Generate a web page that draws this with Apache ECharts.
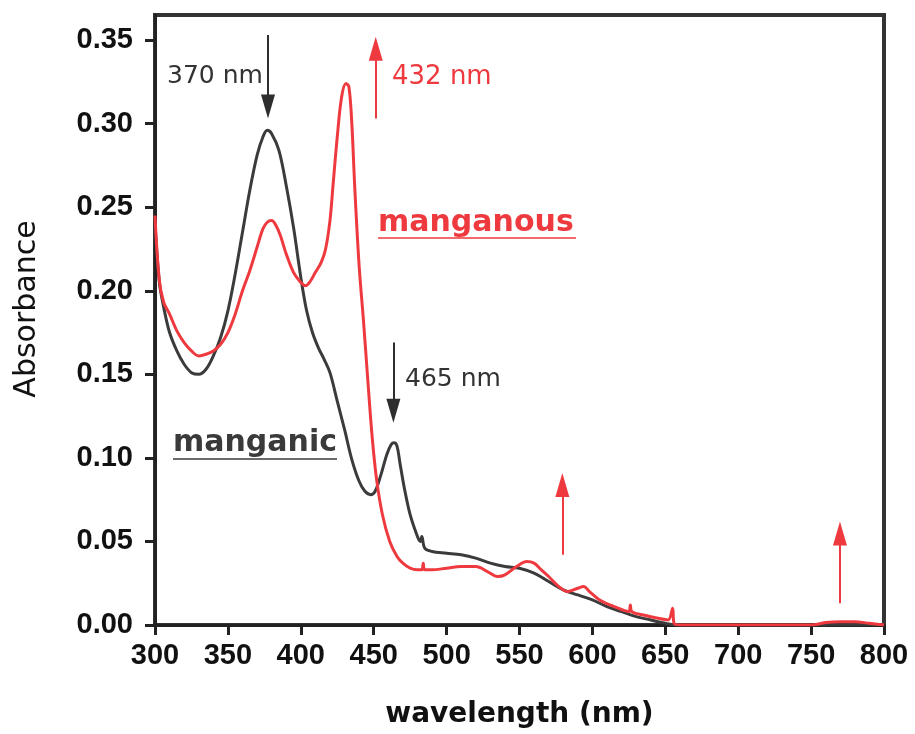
<!DOCTYPE html>
<html>
<head>
<meta charset="utf-8">
<script src="https://cdn.jsdelivr.net/npm/echarts@6/dist/echarts.min.js"></script>
<style>html,body{margin:0;padding:0;background:#fff}#c{width:915px;height:734px}</style>
</head>
<body>
<div id="c"></div>
<script>
// ---- data ----
const xTicks = [300, 350, 400, 450, 500, 550, 600, 650, 700, 750, 800];
const yTicks = [0, 0.05, 0.10, 0.15, 0.20, 0.25, 0.30, 0.35];

const manganicWl = [300,303,306,310,315,320,325,330,335,340,345,350,355,360,365,370,374,377,380,385,390,395,400,404,408,412,416,420,425,430,435,440,444,448,451,455,459,462,464,466,468,471,475,480,482,483,485,490,500,510,520,530,540,550,560,570,580,590,600,610,620,630,640,650,660,700,750,800];
const manganicAbs = [0.240,0.205,0.190,0.175,0.164,0.156,0.151,0.150,0.153,0.161,0.172,0.188,0.210,0.235,0.260,0.281,0.292,0.296,0.294,0.284,0.263,0.238,0.208,0.188,0.175,0.166,0.159,0.151,0.134,0.117,0.099,0.086,0.080,0.078,0.080,0.090,0.102,0.108,0.109,0.107,0.097,0.082,0.066,0.053,0.050,0.053,0.046,0.044,0.043,0.042,0.040,0.037,0.035,0.034,0.031,0.026,0.021,0.018,0.015,0.011,0.008,0.005,0.003,0.001,0.000,0.000,0.000,0.000];

const manganousWl = [300,303,306,310,315,320,325,330,335,340,345,350,355,360,365,370,374,377,380,383,386,390,395,400,403,406,410,414,417,420,422,425,428,431,433,435,437,440,443,446,449,452,456,461,466,470,475,480,483,484,485,490,500,510,520,528,535,540,548,555,560,565,570,577,583,590,594,598,605,615,625,626,627,635,645,652,655,656,660,700,750,760,770,780,790,800];
const manganousAbs = [0.245,0.206,0.193,0.186,0.176,0.169,0.164,0.161,0.162,0.164,0.168,0.175,0.186,0.200,0.212,0.226,0.237,0.241,0.242,0.239,0.233,0.222,0.211,0.205,0.203,0.205,0.211,0.217,0.225,0.242,0.262,0.292,0.316,0.324,0.322,0.300,0.262,0.215,0.182,0.146,0.112,0.087,0.066,0.050,0.041,0.037,0.034,0.033,0.033,0.037,0.033,0.033,0.034,0.035,0.035,0.032,0.029,0.030,0.035,0.038,0.037,0.033,0.029,0.023,0.020,0.022,0.023,0.020,0.015,0.011,0.008,0.012,0.008,0.006,0.004,0.003,0.010,0.001,0.000,0.000,0.000,0.0015,0.002,0.002,0.001,0.000];

// annotation arrows: [wavelength, from absorbance, to absorbance (tip)]
const blackArrows = [[377.5, 0.353, 0.303], [463.5, 0.169, 0.121]];
const redArrows = [[451.4, 0.303, 0.352], [579.4, 0.042, 0.091], [769.8, 0.013, 0.062]];
// ---------------

const BLACK = '#3b3b3b';
const RED = '#ee3a3f';
const pxPerUnit = 1671;
const headLen = 24;

function arrowLines(arr) {
  return arr.map(a => {
    const dir = a[2] > a[1] ? 1 : -1;
    const tip = a[2] - dir * (headLen / 2) / pxPerUnit;
    return [{coord: [a[0], a[1]]}, {coord: [a[0], tip]}];
  });
}

const chart = echarts.init(document.getElementById('c'), null, {renderer: 'canvas'});
chart.setOption({
  animation: false,
  backgroundColor: '#fff',
  grid: {left: 155, right: 31, top: 15, bottom: 109, show: true, borderColor: '#333', borderWidth: 4, backgroundColor: 'transparent'},
  xAxis: {
    type: 'value', min: 300, max: 800, interval: 50,
    name: 'wavelength (nm)', nameLocation: 'middle', nameGap: 76,
    nameTextStyle: {fontFamily: 'DejaVu Sans', fontWeight: 'bold', fontSize: 28, color: '#111'},
    axisLine: {show: true, lineStyle: {color: '#222', width: 3}},
    axisTick: {show: true, length: 10, lineStyle: {color: '#222', width: 3}},
    axisLabel: {fontFamily: 'Liberation Sans', fontWeight: 'bold', fontSize: 29, color: '#111', margin: 16,
      customValues: xTicks},
    splitLine: {show: false}
  },
  yAxis: {
    type: 'value', min: 0, max: 0.365,
    name: 'Absorbance', nameLocation: 'middle', nameRotate: 90, nameGap: 113,
    nameTextStyle: {fontFamily: 'DejaVu Sans', fontSize: 30, color: '#111', padding: [0, 0, 0, 22]},
    axisLine: {show: true, lineStyle: {color: '#222', width: 3}},
    axisTick: {show: true, length: 10, lineStyle: {color: '#222', width: 3}, customValues: yTicks},
    axisLabel: {fontFamily: 'Liberation Sans', fontWeight: 'bold', fontSize: 29, color: '#111', margin: 22,
      customValues: yTicks, formatter: v => v.toFixed(2)},
    splitLine: {show: false}
  },
  series: [
    {
      name: 'manganic', type: 'line', showSymbol: false, smooth: 0.35,
      data: manganicWl.map((w, i) => [w, manganicAbs[i]]),
      lineStyle: {color: BLACK, width: 3}, itemStyle: {color: BLACK}, z: 2,
      markLine: {silent: true, symbol: ['none', 'triangle'], symbolSize: [14, headLen],
        label: {show: false}, lineStyle: {color: '#2e2e2e', width: 2, type: 'solid'}, itemStyle: {color: '#2e2e2e'},
        data: arrowLines(blackArrows)}
    },
    {
      name: 'manganous', type: 'line', showSymbol: false, smooth: 0.35,
      data: manganousWl.map((w, i) => [w, manganousAbs[i]]),
      lineStyle: {color: RED, width: 3}, itemStyle: {color: RED}, z: 3,
      markLine: {silent: true, symbol: ['none', 'triangle'], symbolSize: [14, headLen],
        label: {show: false}, lineStyle: {color: RED, width: 2, type: 'solid'}, itemStyle: {color: RED},
        data: arrowLines(redArrows)}
    }
  ],
  graphic: [
    {type: 'text', left: 167, top: 64, style: {text: '370 nm', font: '25px "DejaVu Sans"', fill: '#333'}},
    {type: 'text', left: 392, top: 64, style: {text: '432 nm', font: '26px "DejaVu Sans"', fill: RED}},
    {type: 'text', left: 405, top: 367, style: {text: '465 nm', font: '25px "DejaVu Sans"', fill: '#333'}},
    {type: 'text', left: 378, top: 208, style: {text: 'manganous', font: 'bold 30px "DejaVu Sans"', fill: RED}},
    {type: 'text', left: 173, top: 428, style: {text: 'manganic', font: 'bold 30px "DejaVu Sans"', fill: '#3a3a3a'}},
    {type: 'line', shape: {x1: 378, y1: 238, x2: 576, y2: 238}, style: {stroke: '#f06a6e', lineWidth: 2}},
    {type: 'line', shape: {x1: 173, y1: 459, x2: 337, y2: 459}, style: {stroke: '#6a6a6a', lineWidth: 2}}
  ]
});
</script>
</body>
</html>
